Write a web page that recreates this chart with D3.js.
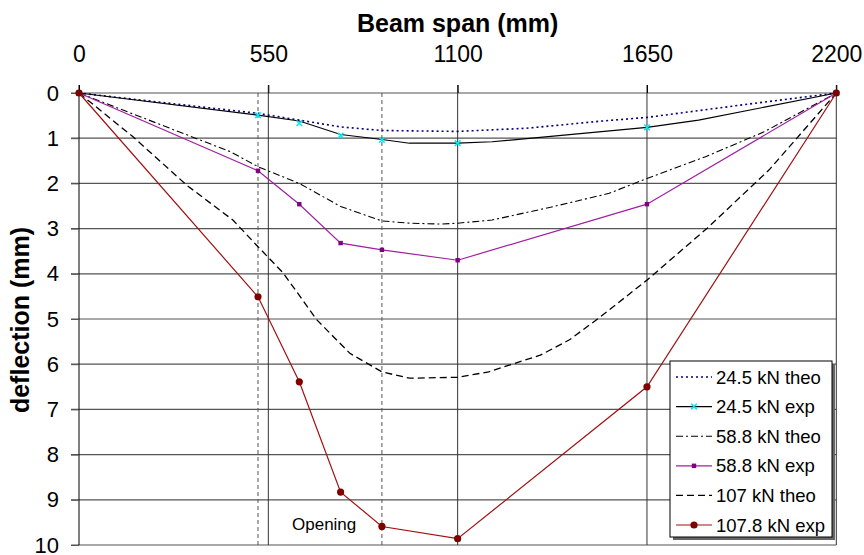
<!DOCTYPE html>
<html>
<head>
<meta charset="utf-8">
<script src="https://cdn.jsdelivr.net/npm/d3@7"></script>
<style>
  body { margin: 0; background: #fff; }
  text { font-family: "Liberation Sans", Arial, sans-serif; }
</style>
</head>
<body>
<div id="chart"></div>
<script>
// beam deflection chart: theoretical vs experimental curves

// tick labels
const xTicks = [0, 550, 1100, 1650, 2200];
const yTicks = [0, 1, 2, 3, 4, 5, 6, 7, 8, 9, 10];

// opening edges (mm along span)
const openingX = [520, 880];

// experimental points (gauge positions)
const expX = [0, 520, 640, 760, 880, 1100, 1650, 2200];
const exp245 = [0, 0.49, 0.67, 0.94, 1.04, 1.11, 0.76, 0];
const exp588 = [0, 1.72, 2.46, 3.32, 3.47, 3.70, 2.46, 0];
const exp1078 = [0, 4.51, 6.39, 8.83, 9.59, 9.86, 6.50, 0];

// line drawn for 24.5 kN exp
const exp245LineX = [0, 520, 640, 760, 880, 960, 1100, 1200, 1650, 1800, 2200];
const exp245Line = [0, 0.49, 0.62, 0.92, 1.03, 1.11, 1.11, 1.08, 0.76, 0.6, 0];

// theoretical curves
const theo245X = [0, 520, 640, 760, 880, 1100, 1300, 1520, 1650, 1920, 2200];
const theo245 = [0, 0.45, 0.6, 0.75, 0.83, 0.85, 0.78, 0.62, 0.54, 0.27, 0];

const theo588X = [0, 220, 440, 520, 640, 760, 880, 960, 1050, 1100, 1200, 1380, 1540, 1650, 1820, 1990, 2200];
const theo588 = [0, 0.65, 1.3, 1.63, 2.0, 2.51, 2.83, 2.88, 2.9, 2.88, 2.81, 2.51, 2.22, 1.89, 1.41, 0.86, 0];

const theo107X = [0, 157, 313, 447, 520, 593, 691, 787, 880, 960, 1100, 1190, 1250, 1340, 1425, 1510, 1650, 1825, 2005, 2200];
const theo107 = [0, 0.97, 2.04, 2.81, 3.4, 3.98, 5.02, 5.76, 6.17, 6.31, 6.29, 6.17, 6.02, 5.8, 5.46, 4.98, 4.14, 2.99, 1.7, 0];

const legendNames = ["24.5 kN theo", "24.5 kN exp", "58.8 kN theo", "58.8 kN exp", "107 kN theo", "107.8 kN exp"];

const width = 864,
      height = 555,
      margin = ({ top: 93, right: 27.7, bottom: 10, left: 79 })

let svg = d3.select("#chart")
    .append("svg")
    .attr("width", width)
    .attr("height", height)

let x = d3.scaleLinear()
    .domain([0, 2200])
    .range([margin.left, width - margin.right])
let y = d3.scaleLinear()
    .domain([0, 10])
    .range([margin.top, height - margin.bottom])

const zip = (xs, ys) => xs.map((v, i) => [v, ys[i]])
const line = d3.line().x(d => x(d[0])).y(d => y(d[1]))

// horizontal gridlines
svg.append("g")
    .selectAll("line")
    .data(yTicks)
    .join("line")
    .attr("x1", margin.left - 8)
    .attr("x2", x(2200))
    .attr("y1", d => y(d))
    .attr("y2", d => y(d))
    .attr("stroke", "#555")
    .attr("stroke-width", 1.2)

// vertical gridlines
svg.append("g")
    .selectAll("line")
    .data(xTicks.slice(1))
    .join("line")
    .attr("x1", d => x(d))
    .attr("x2", d => x(d))
    .attr("y1", margin.top - 8)
    .attr("y2", y(10))
    .attr("stroke", "#333")
    .attr("stroke-width", 1)

// opening edges
svg.append("g")
    .selectAll("line")
    .data(openingX)
    .join("line")
    .attr("x1", d => x(d))
    .attr("x2", d => x(d))
    .attr("y1", y(0))
    .attr("y2", y(10))
    .attr("stroke", "#555")
    .attr("stroke-width", 1)
    .attr("stroke-dasharray", "4,3")

// top axis
let xAxis = svg.append("g")
    .attr("transform", `translate(0,${margin.top})`)
    .call(d3.axisTop(x).tickValues(xTicks).tickFormat(d3.format("d")).tickSize(8).tickPadding(23))
xAxis.select(".domain").remove()
xAxis.selectAll("line").attr("stroke", "#000")
xAxis.selectAll("text")
    .attr("font-size", 23)
    .attr("font-family", "Liberation Sans, Arial, sans-serif")

// left axis
let yAxis = svg.append("g")
    .attr("transform", `translate(${margin.left},0)`)
    .call(d3.axisLeft(y).tickValues(yTicks).tickFormat(d3.format("d")).tickSize(8).tickPadding(12))
yAxis.select(".domain")
    .attr("d", `M0,${margin.top - 8}V${y(10)}`)
    .attr("stroke", "#000")
yAxis.selectAll("line").attr("stroke", "#555")
yAxis.selectAll("text")
    .attr("font-size", 22)
    .attr("font-family", "Liberation Sans, Arial, sans-serif")

// series
const series = [
    { pts: zip(theo245X, theo245), color: "#000080", dash: "2,3", w: 1.6 },
    { pts: zip(exp245LineX, exp245Line), color: "#000", dash: null, w: 1.1 },
    { pts: zip(theo588X, theo588), color: "#000", dash: "7,3,2,3", w: 1.1 },
    { pts: zip(expX, exp588), color: "#a020a0", dash: null, w: 1.2 },
    { pts: zip(theo107X, theo107), color: "#000", dash: "7,4", w: 1.3 },
    { pts: zip(expX, exp1078), color: "#a01010", dash: null, w: 1.2 }
]

svg.append("g")
    .selectAll("path")
    .data(series)
    .join("path")
    .attr("d", d => line(d.pts))
    .attr("fill", "none")
    .attr("stroke", d => d.color)
    .attr("stroke-width", d => d.w)
    .attr("stroke-dasharray", d => d.dash)

// markers
const crossSym = d3.symbol(d3.symbolTimes, 22)
svg.append("g")
    .selectAll("path")
    .data(zip(expX, exp245))
    .join("path")
    .attr("d", crossSym)
    .attr("transform", d => `translate(${x(d[0])},${y(d[1])})`)
    .attr("fill", "none")
    .attr("stroke", "#00e8f0")
    .attr("stroke-width", 1.5)

svg.append("g")
    .selectAll("rect")
    .data(zip(expX, exp588))
    .join("rect")
    .attr("x", d => x(d[0]) - 2.2)
    .attr("y", d => y(d[1]) - 2.2)
    .attr("width", 4.4)
    .attr("height", 4.4)
    .attr("fill", "#800080")

svg.append("g")
    .selectAll("circle")
    .data(zip(expX, exp1078))
    .join("circle")
    .attr("cx", d => x(d[0]))
    .attr("cy", d => y(d[1]))
    .attr("r", 3.6)
    .attr("fill", "#800000")

// titles
svg.append("text")
    .attr("x", (x(0) + x(2200)) / 2)
    .attr("y", 31.5)
    .attr("text-anchor", "middle")
    .attr("font-weight", "bold")
    .attr("font-size", 25)
    .text("Beam span (mm)")

svg.append("text")
    .attr("transform", "translate(29,320) rotate(-90)")
    .attr("text-anchor", "middle")
    .attr("font-weight", "bold")
    .attr("font-size", 25)
    .text("deflection (mm)")

svg.append("text")
    .attr("x", 292)
    .attr("y", 530)
    .attr("font-size", 17)
    .text("Opening")

// legend
let legend = svg.append("g")
legend.append("rect")
    .attr("x", 673).attr("y", 364)
    .attr("width", 162).attr("height", 176)
    .attr("fill", "#666")
legend.append("rect")
    .attr("x", 670).attr("y", 361)
    .attr("width", 162).attr("height", 176)
    .attr("fill", "#fff")
    .attr("stroke", "#000")
    .attr("stroke-width", 1)

let item = legend.selectAll(".item")
    .data(series)
    .join("g")
    .attr("class", "item")
    .attr("transform", (d, i) => `translate(0,${377 + i * 29.6})`)

item.append("line")
    .attr("x1", 676).attr("x2", 712)
    .attr("stroke", d => d.color)
    .attr("stroke-width", d => d.w)
    .attr("stroke-dasharray", d => d.dash)

item.append("text")
    .attr("x", 716)
    .attr("dy", "0.36em")
    .attr("font-size", 18.5)
    .text((d, i) => legendNames[i])

legend.append("path")
    .attr("d", crossSym)
    .attr("transform", `translate(694,${377 + 29.6})`)
    .attr("fill", "none")
    .attr("stroke", "#00e8f0")
    .attr("stroke-width", 1.5)
legend.append("rect")
    .attr("x", 694 - 2.2).attr("y", 377 + 3 * 29.6 - 2.2)
    .attr("width", 4.4).attr("height", 4.4)
    .attr("fill", "#800080")
legend.append("circle")
    .attr("cx", 694).attr("cy", 377 + 5 * 29.6)
    .attr("r", 3.6)
    .attr("fill", "#800000")
</script>
</body>
</html>
